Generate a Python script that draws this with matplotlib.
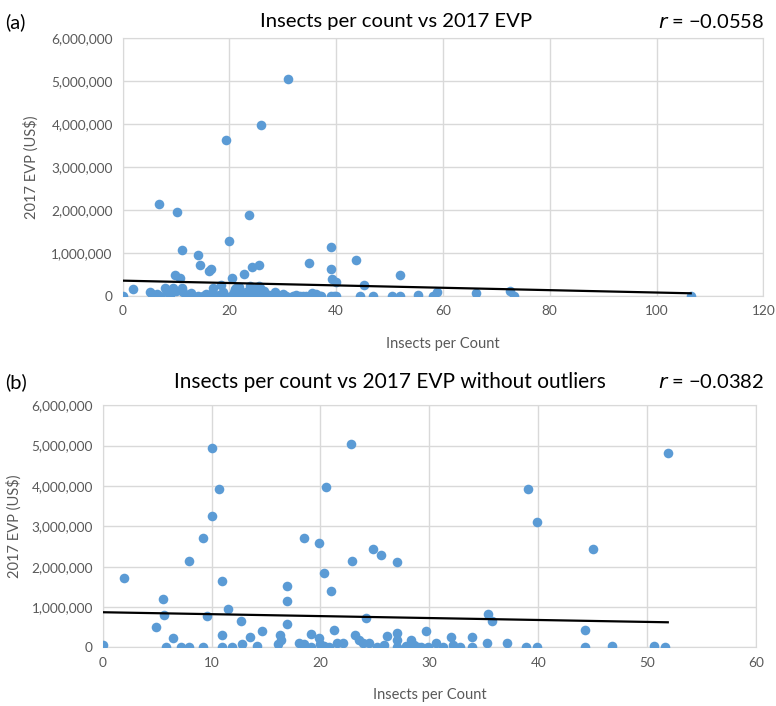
import matplotlib
matplotlib.use("Agg")
import matplotlib.pyplot as plt
from matplotlib.ticker import FuncFormatter

plt.rcParams['font.family'] = ['Lato', 'DejaVu Sans']

# panel (a): all counties
a_x = [0, 2.0, 6.9, 10.2, 11.1, 14.2, 14.5, 16.2, 16.5, 9.9, 10.7, 19.3, 20.0, 20.5,
       18.5, 23.6, 22.8, 24.3, 25.5, 25.9, 30.9, 34.9, 39.0, 39.0, 39.2, 39.9, 43.7,
       45.2, 51.9, 44.4, 46.9, 50.5, 51.9, 55.3, 58.1, 58.9, 66.2, 72.6, 73.4, 106.4,
       37.1, 36.3, 39.0, 39.6,
       5.1, 5.6, 6.0, 7.0, 7.9, 8.3, 9.5, 10.1, 11.1, 11.4, 12.3, 13.2, 14.2, 15.1,
       16.0, 17.0, 17.6, 18.8, 19.2, 21.0, 21.3, 22.6, 23.8, 25.1, 26.0, 26.9, 28.2,
       29.1, 29.4, 30.7, 31.9, 33.2, 34.4, 35.4, 36.0, 36.9, 40.0,
       6.5, 8.8, 12.8, 15.6, 16.5, 18.0, 20.3, 20.8, 21.8, 22.2, 23.2, 24.5, 25.5,
       26.5, 27.5, 28.6, 30.0, 32.5, 33.8, 21.3, 23.9, 25.7]
a_y = [0, 160000, 2140000, 1950000, 1060000, 940000, 710000, 570000, 610000, 480000,
       400000, 3620000, 1270000, 400000, 260000, 1890000, 500000, 670000, 710000,
       3970000, 5040000, 750000, 1130000, 630000, 380000, 320000, 820000, 240000,
       480000, 0, 0, 0, 0, 20000, 0, 80000, 60000, 120000, 0, 0,
       0, 50000, 0, 0,
       90000, 30000, 0, 0, 170000, 90000, 170000, 120000, 170000, 90000, 0, 0, 0, 0,
       0, 170000, 0, 90000, 0, 150000, 0, 0, 0, 170000, 0, 0, 0,
       0, 0, 0, 0, 0, 0, 60000, 0, 0, 0,
       50000, 20000, 60000, 30000, 40000, 20000, 0, 80000, 200000, 30000, 90000,
       40000, 220000, 100000, 20000, 80000, 40000, 20000, 0, 170000, 230000, 190000]

# panel (b): without outliers
b_x = [0, 2.0, 4.9, 5.5, 5.6, 5.8, 6.5, 7.2, 7.9, 7.9, 9.2, 9.2, 9.6, 10.0, 10.0,
       10.7, 11.0, 11.0, 11.0, 11.5, 11.9, 12.7, 12.8, 13.5, 14.2, 14.6, 16.1, 16.3,
       16.4, 16.9, 16.9, 16.9, 18.0, 18.5, 19.1, 19.1, 18.5, 19.9, 20.3, 20.5, 21.0,
       21.2, 19.9, 20.0, 20.3, 20.8, 21.5, 22.1, 22.8, 22.9, 23.2, 23.5, 23.9, 24.2,
       24.5, 24.8, 25.6, 25.2, 25.8, 26.1, 27.0, 27.0, 27.0, 27.0, 27.9, 28.3, 28.6,
       29.0, 29.2, 29.7, 29.9, 30.6, 31.3, 32.0, 32.2, 32.8, 33.9, 33.9, 35.3, 35.4,
       35.8, 37.1, 38.9, 39.1, 39.9, 39.9, 44.3, 44.3, 45.0, 46.8, 50.6, 51.6, 51.9]
b_y = [60000, 1730000, 510000, 1190000, 800000, 0, 240000, 20000, 0, 2150000,
       2720000, 0, 780000, 4950000, 3260000, 3920000, 1640000, 310000, 0, 940000,
       20000, 660000, 80000, 260000, 30000, 400000, 80000, 310000, 190000, 1520000,
       1150000, 570000, 100000, 80000, 330000, 0, 2700000, 2580000, 1850000,
       3980000, 1390000, 430000, 230000, 90000, 30000, 0, 100000, 100000, 5030000,
       2150000, 310000, 190000, 100000, 730000, 100000, 2430000, 2300000, 0, 60000,
       280000, 2120000, 350000, 190000, 0, 30000, 190000, 60000, 0, 20000, 410000,
       0, 110000, 0, 260000, 60000, 0, 260000, 0, 110000, 820000, 660000, 100000,
       0, 3920000, 3110000, 0, 430000, 20000, 2440000, 40000, 40000, 0, 4810000]

# linear trend lines: (intercept, slope, x end)
trend_a = (350000, -2770, 106.4)
trend_b = (870000, -4800, 51.9)

panels = [
    dict(x=a_x, y=a_y, trend=trend_a, xmax=120, xstep=20, tag='(a)',
         title='Insects per count vs 2017 EVP', r='\u22120.0558',
         rect=[0.1579, 0.5812, 0.8258, 0.3650], title_y=0.969, tsize=14.6,
         tx=0.51, ylpad=9),
    dict(x=b_x, y=b_y, trend=trend_b, xmax=60, xstep=10, tag='(b)',
         title='Insects per count vs 2017 EVP without outliers', r='\u22120.0382',
         rect=[0.1323, 0.0831, 0.8419, 0.3428], title_y=0.459, tsize=15,
         tx=0.503, ylpad=7),
]

fig = plt.figure(figsize=(7.76, 7.06), dpi=100)
gray = '#595959'
grid = '#d9d9d9'
fmt = FuncFormatter(lambda v, p: f'{int(v):,}')

for p in panels:
    ax = fig.add_axes(p['rect'])
    ax.scatter(p['x'], p['y'], s=48, color='#5b9bd5', zorder=3, linewidths=0)
    b0, b1, xe = p['trend']
    ax.plot([0, xe], [b0, b0 + b1 * xe], color='black', lw=1.6, zorder=4)
    ax.set_xlim(0, p['xmax'])
    ax.set_ylim(0, 6000000)
    ax.set_xticks(range(0, p['xmax'] + 1, p['xstep']))
    ax.set_yticks(range(0, 6000001, 1000000))
    ax.yaxis.set_major_formatter(fmt)
    ax.grid(True, color=grid, lw=1)
    ax.set_axisbelow(True)
    for s in ax.spines.values():
        s.set_color(grid)
    ax.tick_params(length=0, labelsize=9.8, labelcolor=gray, pad=7)
    ax.set_xlabel('Insects per Count', fontsize=10.5, color=gray, labelpad=14)
    ax.set_ylabel('2017 EVP (US$)', fontsize=10.5, color=gray, labelpad=p['ylpad'])
    ax.patch.set_alpha(0)
    fig.text(0.006, p['title_y'], p['tag'], fontsize=14.5, va='center', ha='left')
    fig.text(p['tx'], p['title_y'], p['title'], fontsize=p['tsize'], va='center',
             ha='center')
    fig.text(0.985, p['title_y'], r'$r$ = ' + p['r'], fontsize=14.5, va='center',
             ha='right')

fig.savefig('out.png', dpi=100)
